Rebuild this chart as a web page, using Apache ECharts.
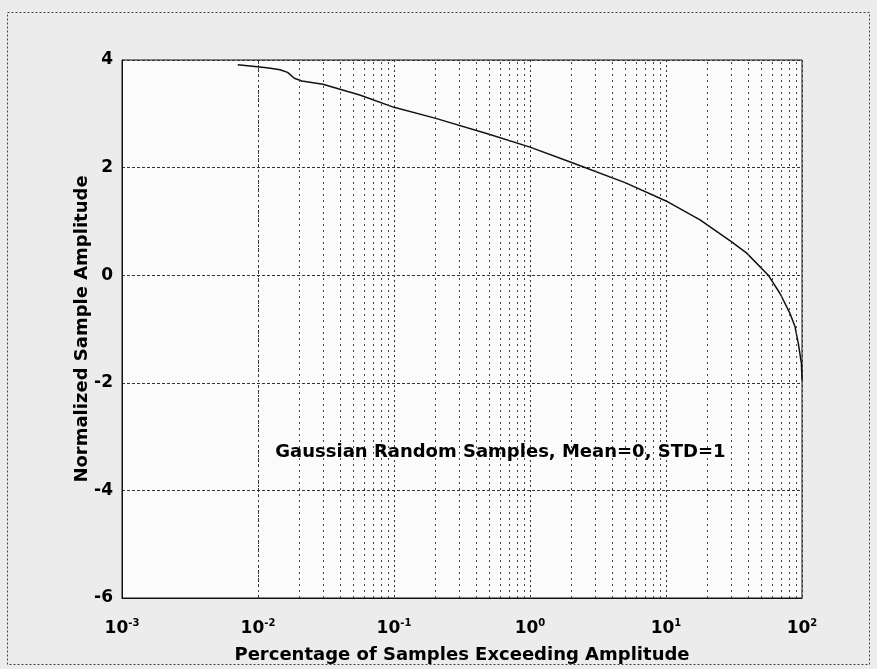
<!DOCTYPE html>
<html>
<head>
<meta charset="utf-8">
<script src="https://cdn.jsdelivr.net/npm/echarts@6/dist/echarts.min.js"></script>
<style>
html,body{margin:0;padding:0;background:#ececec;}
#chart{width:877px;height:669px;}
</style>
</head>
<body>
<div id="chart"></div>
<script>
// Percentage of samples exceeding amplitude (x, log scale)
const percentExceeding = [0.0071, 0.0095, 0.012, 0.0145, 0.0165, 0.0185, 0.021, 0.03, 0.045, 0.056, 0.1, 0.2, 0.5, 1, 2, 5, 10, 17.8, 30.4, 39.2, 56.5, 68.9, 81.6, 88.9, 94, 99, 100];
// Normalized sample amplitude (y)
const amplitude = [3.91, 3.88, 3.85, 3.82, 3.77, 3.66, 3.61, 3.55, 3.42, 3.35, 3.12, 2.92, 2.62, 2.38, 2.10, 1.72, 1.38, 1.03, 0.62, 0.41, 0.0, -0.34, -0.71, -0.96, -1.27, -1.64, -1.95];
// minor vertical grid positions (2..9 per decade)
const minorGridX = [];
[0.001, 0.01, 0.1, 1, 10].forEach(d => { for (let k = 2; k <= 9; k++) minorGridX.push(+(d * k).toPrecision(3)); });
const xTickExponents = {'0.001': '-3', '0.01': '-2', '0.1': '-1', '1': '0', '10': '1', '100': '2'};
const annotationText = 'Gaussian Random Samples, Mean=0, STD=1';
const annotationAt = [0.0133, -3.29];
const xName = 'Percentage of Samples Exceeding Amplitude';
const yName = 'Normalized Sample Amplitude';

const font = 'DejaVu Sans';
const chart = echarts.init(document.getElementById('chart'));
chart.setOption({
  animation: false,
  backgroundColor: '#ececec',
  graphic: [{
    type: 'rect', shape: {x: 7.5, y: 12.5, width: 862, height: 652},
    style: {fill: 'none', stroke: '#444', lineWidth: 1, lineDash: [2, 2]}, z: -1
  }],
  grid: {left: 122, right: 75, top: 60, bottom: 71, show: true, backgroundColor: '#fbfbfb', borderColor: '#111', borderWidth: 1},
  xAxis: {
    type: 'log', logBase: 10, min: 0.001, max: 100,
    name: xName, nameLocation: 'middle', nameGap: 48, nameMoveOverlap: false,
    nameTextStyle: {fontFamily: font, fontSize: 18, fontWeight: 'bold', color: '#000'},
    axisLine: {show: true, onZero: false, lineStyle: {color: '#111'}},
    axisTick: {show: false},
    splitLine: {show: true, lineStyle: {color: '#333', type: [2, 3], width: 1}},
    axisLabel: {
      margin: 20,
      formatter: function (v) {
        const key = String(+v.toPrecision(3));
        return '{b|10}{s|' + (xTickExponents[key] || '') + '}';
      },
      rich: {
        b: {fontFamily: font, fontSize: 17, fontWeight: 'bold', color: '#000', verticalAlign: 'bottom'},
        s: {fontFamily: font, fontSize: 10, fontWeight: 'bold', color: '#000', verticalAlign: 'top', padding: [0, 0, 9, 0]}
      }
    }
  },
  yAxis: {
    type: 'value', min: -6, max: 4, interval: 2,
    name: yName, nameLocation: 'middle', nameGap: 31, nameRotate: 90, nameMoveOverlap: false,
    nameTextStyle: {fontFamily: font, fontSize: 18, fontWeight: 'bold', color: '#000'},
    axisLine: {show: true, onZero: false, lineStyle: {color: '#111'}},
    axisTick: {show: false},
    splitLine: {show: true, lineStyle: {color: '#333', type: [3, 2], width: 1}},
    axisLabel: {margin: 9, fontFamily: font, fontSize: 17, fontWeight: 'bold', color: '#000'}
  },
  series: [{
    type: 'line',
    data: percentExceeding.map((p, i) => [p, amplitude[i]]),
    showSymbol: false, smooth: false,
    lineStyle: {color: '#111', width: 1.5},
    markLine: {
      silent: true, symbol: 'none', label: {show: false},
      lineStyle: {color: '#444', type: [2, 4], width: 1},
      emphasis: {disabled: true},
      data: minorGridX.map(v => ({xAxis: v}))
    },
    markPoint: {
      symbol: 'circle', symbolSize: 1, silent: true,
      itemStyle: {color: 'rgba(0,0,0,0)'},
      label: {show: true, position: 'right', distance: 0, formatter: annotationText, fontFamily: font, fontSize: 18, fontWeight: 'bold', color: '#000'},
      data: [{coord: annotationAt}]
    }
  }]
});
</script>
</body>
</html>
